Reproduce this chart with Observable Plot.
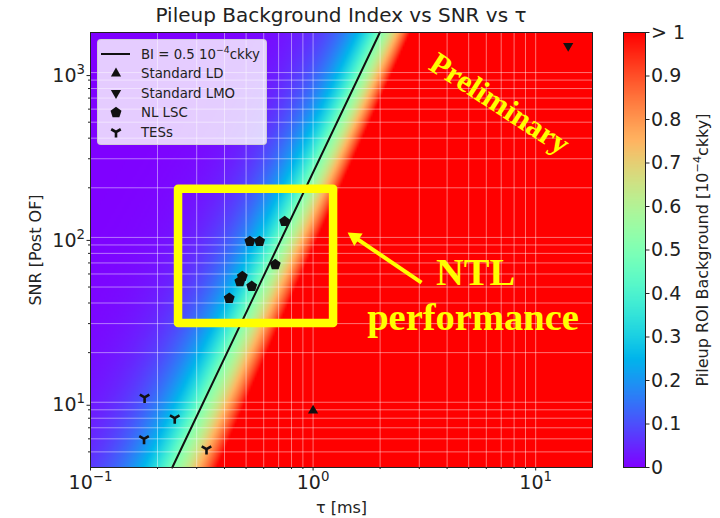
<!DOCTYPE html>
<html><head><meta charset="utf-8">
<script src="https://cdn.jsdelivr.net/npm/d3@7"></script>
<script src="https://cdn.jsdelivr.net/npm/@observablehq/plot@0.6"></script>
<style>
html,body{margin:0;padding:0;background:#fff;}
#wrap{position:relative;width:720px;height:518px;overflow:hidden;font-family:"DejaVu Sans",sans-serif;}
#main{position:absolute;left:0;top:0;}
#cbar{position:absolute;left:610px;top:0;}
#title{position:absolute;left:90px;width:502px;top:5px;text-align:center;font-size:20px;line-height:20px;color:#222;white-space:nowrap;}
#legend{position:absolute;left:97px;top:39px;width:170px;height:106px;background:rgba(255,255,255,0.8);border:1px solid rgba(204,204,204,0.8);border-radius:4px;box-sizing:border-box;}
#legend svg{position:absolute;left:-1px;top:-1px;}
</style></head><body>
<div id="wrap">
  <div id="main"></div>
  <div id="cbar"></div>
  <div id="title">Pileup Background Index vs SNR vs τ</div>
  <div id="legend"></div>
</div>
<script>
// ---------------- data ----------------
const tauLD = [1.0];          const snrLD = [8.9];
const tauLMO = [14];          const snrLMO = [1450];
const tauLSC = [0.745, 0.52, 0.575, 0.676, 0.481, 0.469, 0.53, 0.42];
const snrLSC = [125, 94.6, 94.6, 68.4, 58, 54, 50.5, 42.7];
const tauTES = [0.175, 0.239, 0.174, 0.332];
const snrTES = [10.7, 8.0, 6.0, 5.2];
// BI = 0.5 contour (end points of the black line)
const biLineTau = [0.233, 1.995];
const biLineSNR = [4.02, 1750];
// background model parameters (BI = 0.5 * (tau/tau_c)^p), bottom -> top of the chart
const pBelow = [2.3, 3.0];
const pAbove = [1.5, 2.2];
const tauDomain = [0.1, 18];
const snrDomain = [4.02, 1750];
const xTicks = [0.1, 1, 10];
const xTickLabels = ["10^{−1}", "10^{0}", "10^{1}"];
const yTicks = [10, 100, 1000];
const yTickLabels = ["10^{1}", "10^{2}", "10^{3}"];
const xMinor = [0.2,0.3,0.4,0.5,0.6,0.7,0.8,0.9,2,3,4,5,6,7,8,9];
const yMinor = [5,6,7,8,9,20,30,40,50,60,70,80,90,200,300,400,500,600,700,800,900];
const cbarTicks = [0,0.1,0.2,0.3,0.4,0.5,0.6,0.7,0.8,0.9,1];
const cbarTickLabels = ["0","0.1","0.2","0.3","0.4","0.5","0.6","0.7","0.8","0.9","> 1"];
const legendLabels = ["BI = 0.5 10^{−4}ckky", "Standard LD", "Standard LMO", "NL LSC", "TESs"];
const cbarLabel = "Pileup ROI Background [10^{−4}ckky]";
// annotations
const boxTau = [0.2486, 1.236];  const boxSNR = [30, 196];
const arrowTau = [3.07, 1.54];   const arrowSNR = [53.2, 100];
const annText = ["Preliminary", "NTL", "performance"];
const annTau = [6.89, 5.37, 5.23];
const annSNR = [648, 61.1, 32.5];

// ---------------- helpers ----------------
const rainbow = (t) => {
  t = Math.max(0, Math.min(1, t));
  const r = Math.min(1, Math.abs(2 * t - 0.5));
  const g = Math.sin(Math.PI * t);
  const b = Math.cos(Math.PI * t / 2);
  return `rgb(${Math.round(r*255)},${Math.round(g*255)},${Math.round(b*255)})`;
};
const colorScale = {type: "linear", domain: [0, 1], interpolate: rainbow, clamp: true};

const triDown = {draw(ctx, size) {
  const s = Math.sqrt(size * 4 / Math.sqrt(3)), h = s * Math.sqrt(3) / 2;
  ctx.moveTo(0, 2*h/3); ctx.lineTo(-s/2, -h/3); ctx.lineTo(s/2, -h/3); ctx.closePath();
}};
const pentagon = {draw(ctx, size) {
  const R = Math.sqrt(size / (2.5 * Math.sin(2*Math.PI/5)));
  for (let k = 0; k < 5; k++) {
    const a = -Math.PI/2 + k * 2*Math.PI/5;
    k ? ctx.lineTo(R*Math.cos(a), R*Math.sin(a)) : ctx.moveTo(R*Math.cos(a), R*Math.sin(a));
  }
  ctx.closePath();
}};
const triY = {draw(ctx, size) {
  const L = Math.sqrt(size / Math.PI);
  ctx.moveTo(0, 0); ctx.lineTo(0, L);
  ctx.moveTo(0, 0); ctx.lineTo(-L*Math.sqrt(3)/2, -L/2);
  ctx.moveTo(0, 0); ctx.lineTo(L*Math.sqrt(3)/2, -L/2);
}};

// turn "a^{b}c" into text with a real superscript tspan
function supify(root) {
  d3.select(root).selectAll("text").each(function() {
    const t = this.textContent;
    const m = /^(.*?)\^\{(.+?)\}(.*)$/.exec(t);
    if (!m) return;
    const sel = d3.select(this);
    this.textContent = m[1];
    sel.append("tspan").attr("font-size", "70%").attr("dy", "-0.6em").text(m[2]);
    if (m[3]) sel.append("tspan").attr("dy", "0.42em").text(m[3]);
  });
}

// ---------------- background grid ----------------
const nx = 251, ny = 218;
const L = Math.log10;
const lx0 = L(tauDomain[0]), lx1 = L(tauDomain[1]);
const ly0 = L(snrDomain[0]), ly1 = L(snrDomain[1]);
const slope = (L(biLineTau[1]) - L(biLineTau[0])) / (L(biLineSNR[1]) - L(biLineSNR[0]));
const grid = [];
for (let j = 0; j < ny; j++) {
  const ly = ly0 + (j + 0.5) * (ly1 - ly0) / ny;
  const ltc = L(biLineTau[0]) + (ly - L(biLineSNR[0])) * slope;
  const f = (ly - ly0) / (ly1 - ly0);
  const pb = pBelow[0] + (pBelow[1] - pBelow[0]) * f;
  const pa = pAbove[0] + (pAbove[1] - pAbove[0]) * f;
  for (let i = 0; i < nx; i++) {
    const lx = lx0 + (i + 0.5) * (lx1 - lx0) / nx;
    const d = lx - ltc;
    const bi = 0.5 * Math.pow(10, (d < 0 ? pb : pa) * d);
    grid.push({tau: Math.pow(10, lx), snr: Math.pow(10, ly), bi: Math.min(bi, 1)});
  }
}

const pts = (T, S) => T.map((t, i) => ({tau: t, snr: S[i]}));
const lineData = pts(biLineTau, biLineSNR);
const boxData = [{x1: boxTau[0], x2: boxTau[1], y1: boxSNR[0], y2: boxSNR[1]}];
const arrowData = [{x1: arrowTau[0], y1: arrowSNR[0], x2: arrowTau[1], y2: arrowSNR[1]}];
const yellow = "#ffff00";

const main = Plot.plot({
  width: 610, height: 518,
  marginLeft: 90, marginRight: 18, marginTop: 32, marginBottom: 51,
  style: {fontFamily: "DejaVu Sans", fontSize: "18px", color: "#222", background: "transparent"},
  x: {type: "log", domain: tauDomain},
  y: {type: "log", domain: snrDomain},
  color: colorScale,
  marks: [
    Plot.raster(grid, {x: "tau", y: "snr", fill: "bi", width: nx, height: ny,
      x1: tauDomain[0], x2: tauDomain[1], y1: snrDomain[0], y2: snrDomain[1]}),
    Plot.gridX(xTicks.concat(xMinor), {stroke: "white", strokeOpacity: 0.45, strokeWidth: 1}),
    Plot.gridY(yTicks.concat(yMinor), {stroke: "white", strokeOpacity: 0.45, strokeWidth: 1}),
    Plot.line(lineData, {x: "tau", y: "snr", stroke: "#111", strokeWidth: 2}),
    Plot.frame({stroke: "#222", strokeWidth: 1}),
    Plot.axisX(xTicks, {tickSize: 3.5, tickPadding: 4, fontSize: 19, label: null,
      tickFormat: d => xTickLabels[xTicks.indexOf(d)]}),
    Plot.axisX(xMinor, {tickSize: 2, tickFormat: () => "", label: null}),
    Plot.axisY(yTicks, {tickSize: 3.5, tickPadding: 2, fontSize: 19, label: null, dy: 3,
      tickFormat: d => yTickLabels[yTicks.indexOf(d)]}),
    Plot.axisY(yMinor, {tickSize: 2, tickFormat: () => "", label: null}),
    Plot.text(["SNR [Post OF]"], {frameAnchor: "left", dx: -55, rotate: -90, textAnchor: "middle", lineAnchor: "middle", fontSize: 16, text: d => d}),
    Plot.text(["τ [ms]"], {frameAnchor: "bottom", dy: 40, textAnchor: "middle", lineAnchor: "middle", fontSize: 16, text: d => d}),
    Plot.dot(pts(tauLD, snrLD), {x: "tau", y: "snr", symbol: "triangle", r: 3.8, fill: "#111"}),
    Plot.dot(pts(tauLMO, snrLMO), {x: "tau", y: "snr", symbol: triDown, r: 3.8, fill: "#111"}),
    Plot.dot(pts(tauLSC, snrLSC), {x: "tau", y: "snr", symbol: pentagon, r: 5, fill: "#111"}),
    Plot.dot(pts(tauTES, snrTES), {x: "tau", y: "snr", symbol: triY, r: 5.5, fill: "none", stroke: "#111", strokeWidth: 2.6}),
    Plot.rect(boxData, {x1: "x1", x2: "x2", y1: "y1", y2: "y2", fill: "none", stroke: yellow, strokeWidth: 8.5, strokeLinejoin: "round"}),
    Plot.link(arrowData, {x1: "x1", y1: "y1", x2: "x2", y2: "y2", stroke: yellow, strokeWidth: 4}),
    Plot.dot(arrowData, {x: "x2", y: "y2", symbol: "triangle", r: 5.6, fill: yellow, rotate: -56}),
    Plot.text(annText.slice(0,1), {x: annTau.slice(0,1), y: annSNR.slice(0,1), text: d => d, rotate: 33,
      fontFamily: "Liberation Serif", fontWeight: "bold", fontSize: 31, fill: yellow}),
    Plot.text(annText.slice(1), {x: annTau.slice(1), y: annSNR.slice(1), text: d => d,
      fontFamily: "Liberation Serif", fontWeight: "bold", fontSize: 38.5, fill: yellow})
  ]
});
supify(main);
document.getElementById("main").appendChild(main);

const cbar = Plot.plot({
  width: 110, height: 518,
  marginLeft: 13, marginRight: 75, marginTop: 32, marginBottom: 51,
  style: {fontFamily: "DejaVu Sans", fontSize: "19px", color: "#222", background: "transparent"},
  x: {domain: [0, 1], axis: null},
  y: {domain: [0, 1]},
  color: colorScale,
  marks: [
    Plot.raster({fill: (x, y) => y, x1: 0, x2: 1, y1: 0, y2: 1, width: 1, height: 300}),
    Plot.frame({stroke: "#222", strokeWidth: 1}),
    Plot.axisY(cbarTicks, {anchor: "right", tickSize: 3.5, tickPadding: 2, fontSize: 19, label: null,
      tickFormat: d => cbarTickLabels[cbarTicks.indexOf(d)]}),
    Plot.text([cbarLabel], {frameAnchor: "right", dx: 57, rotate: -90, textAnchor: "middle", lineAnchor: "middle", fontSize: 16, text: d => d})
  ]
});
supify(cbar);
document.getElementById("cbar").appendChild(cbar);

// ---------------- legend ----------------
const lg = d3.select("#legend").append("svg").attr("width", 170).attr("height", 106);
const rowY = [15, 34.5, 54, 73.5, 93];
const symbols = [null, d3.symbolTriangle, triDown, pentagon, triY];
const sizes = [0, Math.PI*3.8*3.8, Math.PI*3.8*3.8, Math.PI*5*5, Math.PI*5.5*5.5];
legendLabels.forEach((lab, i) => {
  const y = rowY[i];
  if (i === 0) {
    lg.append("line").attr("x1", 4).attr("x2", 33).attr("y1", y).attr("y2", y)
      .attr("stroke", "#111").attr("stroke-width", 2);
  } else if (i === 4) {
    lg.append("path").attr("d", d3.symbol(symbols[i], sizes[i])()).attr("transform", `translate(19,${y})`)
      .attr("fill", "none").attr("stroke", "#111").attr("stroke-width", 2.6);
  } else {
    lg.append("path").attr("d", d3.symbol(symbols[i], sizes[i])()).attr("transform", `translate(19,${y})`)
      .attr("fill", "#111");
  }
  lg.append("text").attr("x", 44).attr("y", y).attr("dy", "0.35em").attr("font-size", 13.3)
    .attr("font-family", "DejaVu Sans").attr("fill", "#222").text(lab);
});
supify(lg.node());
</script>
</body></html>
